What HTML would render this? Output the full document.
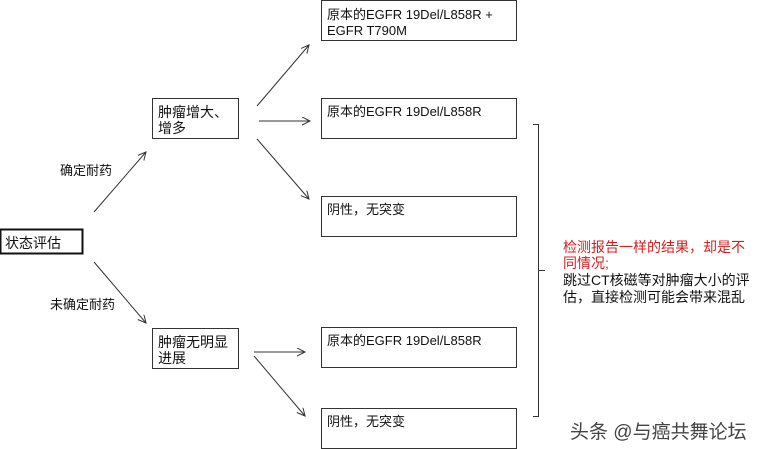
<!DOCTYPE html>
<html><head><meta charset="utf-8"><style>
html,body{margin:0;padding:0;background:#fff;}
svg{display:block;}
text{font-family:"Liberation Sans","Noto Sans CJK SC",sans-serif;font-size:13px;fill:#111;}
</style></head><body>
<svg width="761" height="449" viewBox="0 0 761 449" xmlns="http://www.w3.org/2000/svg">
<defs><marker id="a" markerWidth="10" markerHeight="10" refX="8" refY="4" orient="auto" markerUnits="userSpaceOnUse"><path d="M0,0 L8,4 L0,8" fill="none" stroke="#333" stroke-width="1"/></marker></defs>
<g fill="none" stroke="#333" stroke-width="1">
<rect x="0.5" y="229.5" width="82" height="24" stroke-width="2" stroke="#111"/>
<rect x="152.5" y="98.5" width="86" height="40"/>
<rect x="152.5" y="328.5" width="86" height="40"/>
<rect x="321.5" y="0.5" width="195" height="40"/>
<rect x="321.5" y="98.5" width="195" height="40"/>
<rect x="321.5" y="196.5" width="195" height="40"/>
<rect x="321.5" y="327.5" width="195" height="40"/>
<rect x="321.5" y="408.5" width="195" height="40"/>
<line x1="94" y1="212" x2="146" y2="152" marker-end="url(#a)"/>
<line x1="94" y1="262" x2="146" y2="323" marker-end="url(#a)"/>
<line x1="257" y1="106" x2="309" y2="45" marker-end="url(#a)"/>
<line x1="259" y1="121" x2="310" y2="121" marker-end="url(#a)"/>
<line x1="257" y1="139" x2="309" y2="199" marker-end="url(#a)"/>
<line x1="254" y1="352" x2="305" y2="352" marker-end="url(#a)"/>
<line x1="254" y1="356" x2="305" y2="416" marker-end="url(#a)"/>
<path d="M533,124.5 H538.5 V416.5 H533 M538.5,270.5 H545"/>
</g>
<text x="5" y="248" style="font-size:14px">状态评估</text>
<text x="60" y="175">确定耐药</text>
<text x="50" y="309">未确定耐药</text>
<text x="158" y="117" style="font-size:14px">肿瘤增大、</text>
<text x="158" y="133" style="font-size:14px">增多</text>
<text x="158" y="347" style="font-size:14px">肿瘤无明显</text>
<text x="158" y="363" style="font-size:14px">进展</text>
<text x="327" y="19">原本的EGFR 19Del/L858R +</text>
<text x="327" y="35">EGFR T790M</text>
<text x="327" y="116">原本的EGFR 19Del/L858R</text>
<text x="327" y="214">阴性，无突变</text>
<text x="327" y="345">原本的EGFR 19Del/L858R</text>
<text x="327" y="426">阴性，无突变</text>
<text x="563" y="252" style="font-size:14px;fill:#d42020">检测报告一样的结果，却是不</text>
<text x="563" y="268" style="font-size:14px;fill:#d42020">同情况;</text>
<text x="563" y="285" style="font-size:14px">跳过CT核磁等对肿瘤大小的评</text>
<text x="563" y="302" style="font-size:14px">估，直接检测可能会带来混乱</text>
<text x="570" y="438" style="font-size:19px;fill:#444">头条 @与癌共舞论坛</text>
</svg>
</body></html>
